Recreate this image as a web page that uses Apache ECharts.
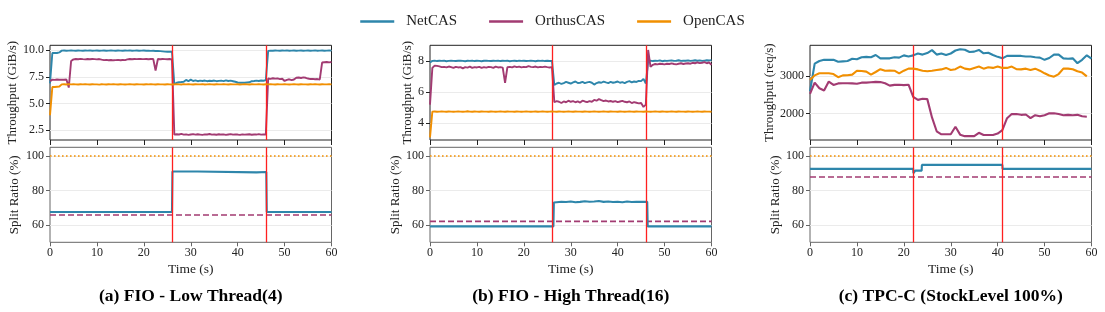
<!DOCTYPE html>
<html><head><meta charset="utf-8">
<script src="https://cdn.jsdelivr.net/npm/echarts@6/dist/echarts.min.js"></script>
<style>html,body{margin:0;padding:0;background:#fff}#c{width:1105px;height:312px}</style>
</head><body><div id="c"></div>
<script>
const seriesNames = ['NetCAS', 'OrthusCAS', 'OpenCAS'];
const seriesColors = ['#2E86AB', '#A23B72', '#F18F01'];
const panelTitles = ['(a) FIO - Low Thread(4)', '(b) FIO - High Thread(16)', '(c) TPC-C (StockLevel 100%)'];
const timeTicks = [0, 10, 20, 30, 40, 50, 60];
const splitTicks = [60, 80, 100];
const throughputTicksA = [2.5, 5.0, 7.5, 10.0];
const throughputTicksB = [4, 6, 8];
const throughputTicksC = [2000, 3000];
const phaseLinesA = [26, 46];
const phaseLinesB = [26, 46];
const phaseLinesC = [22, 41];

// FIO sample times (0.5 s)
const timeFio = Array.from({length: 121}, (_, i) => i * 0.5);
// TPC-C sample times (1 s)
const timeTpc = Array.from({length: 61}, (_, i) => i);

// ---- (a) FIO Low Thread throughput (GiB/s)
const netA = [
 6.9, 9.75, 9.76, 9.75, 9.8, 9.97, 9.98, 9.96, 9.97, 9.99,
 9.97, 9.96, 9.98, 9.97, 9.96, 9.98, 9.97, 9.99, 9.96, 9.97,
 9.98, 9.96, 9.97, 9.98, 9.96, 9.97, 9.99, 9.97, 9.96, 9.98,
 9.97, 9.96, 9.98, 9.97, 9.99, 9.96, 9.97, 9.98, 9.96, 9.97,
 9.98, 9.96, 9.97, 9.95, 9.96, 9.94, 9.93, 9.92, 9.9, 9.88,
 9.87, 9.88, 9.86, 6.8, 6.95, 7.0, 7.02, 7.05, 7.22, 7.1,
 7.25, 7.12, 7.18, 7.1, 7.15, 7.12, 7.16, 7.1, 7.14, 7.12,
 7.16, 7.1, 7.13, 7.15, 7.11, 7.18, 7.12, 7.15, 7.1, 7.05,
 6.98, 6.96, 6.97, 6.95, 6.98, 7.0, 7.1, 7.12, 7.15, 7.12,
 7.16, 7.14, 7.2, 9.95, 9.97, 9.96, 9.98, 9.97, 9.96, 9.98,
 9.97, 9.99, 9.96, 9.97, 9.98, 9.96, 9.97, 9.98, 9.96, 9.97,
 9.98, 9.96, 9.97, 9.99, 9.96, 9.97, 9.98, 9.96, 9.97, 9.98,
 9.97];
const orthA = [
 7.1, 7.25, 7.22, 7.26, 7.24, 7.25, 7.23, 7.26, 6.5, 9.0,
 9.15, 9.18, 9.16, 9.2, 9.17, 9.15, 9.18, 9.16, 9.19, 9.17,
 9.15, 9.18, 9.12, 9.08, 9.1, 9.07, 9.09, 9.06, 9.08, 9.1,
 9.07, 9.09, 9.08, 9.15, 9.18, 9.16, 9.19, 9.17, 9.2, 9.18,
 9.17, 9.19, 9.16, 9.18, 9.2, 8.1, 9.18, 9.16, 9.19, 9.17,
 9.16, 9.18, 9.15, 2.08, 2.12, 2.1, 2.15, 2.08, 2.11, 2.06,
 2.1, 2.13, 2.08, 2.12, 2.09, 2.06, 2.11, 2.1, 2.14, 2.08,
 2.1, 2.07, 2.12, 2.09, 2.11, 2.06, 2.1, 2.13, 2.08, 2.1,
 2.09, 2.06, 2.11, 2.08, 2.1, 2.12, 2.07, 2.1, 2.09, 2.13,
 2.08, 2.11, 2.1, 7.35, 7.32, 7.38, 7.34, 7.36, 7.3, 7.33,
 7.12, 7.22, 7.28, 7.2, 7.26, 7.42, 7.45, 7.4, 7.46, 7.42,
 7.35, 7.3, 7.32, 7.28, 7.3, 7.26, 8.85, 8.88, 8.9, 8.87,
 8.9];
const openA = [
 3.9, 6.55, 6.56, 6.58, 6.6, 6.8, 6.81, 6.79, 6.82, 6.8,
 6.81, 6.8, 6.79, 6.81, 6.8, 6.82, 6.8, 6.79, 6.81, 6.8,
 6.8, 6.78, 6.81, 6.8, 6.79, 6.81, 6.8, 6.82, 6.8, 6.79,
 6.81, 6.8, 6.79, 6.8, 6.82, 6.8, 6.79, 6.81, 6.8, 6.8,
 6.79, 6.81, 6.8, 6.82, 6.8, 6.79, 6.81, 6.8, 6.8, 6.79,
 6.81, 6.8, 6.79, 6.8, 6.81, 6.8, 6.79, 6.82, 6.8, 6.81,
 6.8, 6.79, 6.81, 6.8, 6.8, 6.82, 6.79, 6.8, 6.81, 6.8,
 6.79, 6.81, 6.8, 6.8, 6.82, 6.8, 6.79, 6.81, 6.8, 6.8,
 6.81, 6.79, 6.8, 6.82, 6.8, 6.79, 6.81, 6.8, 6.8, 6.81,
 6.8, 6.79, 6.81, 6.8, 6.82, 6.8, 6.79, 6.81, 6.8, 6.8,
 6.81, 6.8, 6.79, 6.8, 6.82, 6.8, 6.79, 6.81, 6.8, 6.8,
 6.79, 6.81, 6.8, 6.82, 6.8, 6.79, 6.81, 6.8, 6.8, 6.81,
 6.8];

// ---- (b) FIO High Thread throughput (GiB/s)
const netB = [
 7.9, 8.0, 8.02, 7.99, 8.01, 8.0, 8.02, 7.98, 8.0, 8.01,
 8.0, 7.99, 8.01, 8.02, 8.0, 7.98, 8.01, 8.0, 8.02, 7.99,
 8.01, 8.0, 7.98, 8.01, 8.02, 8.0, 7.99, 8.01, 8.0, 8.02,
 7.99, 8.01, 8.0, 8.02, 7.98, 8.0, 8.01, 7.99, 8.02, 8.0,
 8.01, 7.99, 8.0, 8.02, 8.0, 7.98, 8.01, 8.0, 8.02, 7.99,
 8.01, 7.99, 8.0, 6.45, 6.55, 6.6, 6.52, 6.58, 6.65, 6.6,
 6.55, 6.62, 6.68, 6.58, 6.6, 6.65, 6.57, 6.62, 6.66, 6.6,
 6.48, 6.58, 6.63, 6.6, 6.67, 6.62, 6.58, 6.65, 6.6, 6.63,
 6.68, 6.6, 6.64, 6.58, 6.66, 6.7, 6.62, 6.68, 6.65, 6.72,
 6.7, 6.85, 6.55, 8.0, 8.02, 7.99, 8.01, 8.0, 8.03, 7.98,
 8.01, 8.0, 8.02, 8.03, 8.0, 8.01, 8.04, 8.0, 8.02, 8.01,
 8.03, 8.0, 8.02, 8.04, 8.01, 8.03, 8.0, 8.02, 8.04, 8.03,
 8.05];
const orthB = [
 5.2, 7.55, 7.7, 7.68, 7.65, 7.6, 7.62, 7.58, 7.64, 7.6,
 7.55, 7.62, 7.58, 7.6, 7.52, 7.6, 7.57, 7.63, 7.55, 7.6,
 7.58, 7.62, 7.55, 7.6, 7.57, 7.62, 7.6, 7.55, 7.63, 7.58,
 7.6, 7.57, 6.6, 7.6, 7.62, 7.58, 7.65, 7.6, 7.63, 7.58,
 7.62, 7.6, 7.66, 7.62, 7.6, 7.64, 7.58, 7.62, 7.6, 7.63,
 7.6, 7.58, 7.6, 5.35, 5.42, 5.38, 5.3, 5.4, 5.35, 5.45,
 5.38, 5.42, 5.35, 5.4, 5.33, 5.45, 5.4, 5.36, 5.42, 5.38,
 5.5, 5.45, 5.55, 5.48, 5.42, 5.46, 5.4, 5.43, 5.38, 5.42,
 5.36, 5.4, 5.44, 5.38, 5.35, 5.4, 5.3, 5.36, 5.32, 5.28,
 5.3, 5.05, 5.2, 8.7, 7.62, 7.75, 7.8, 7.78, 7.82, 7.8,
 7.78, 7.82, 7.8, 7.84, 7.8, 7.78, 7.82, 7.85, 7.8, 7.83,
 7.85, 7.82, 7.88, 7.85, 7.9, 7.86, 7.88, 7.92, 7.85, 7.9,
 7.75];
const openB = [
 3.1, 4.75, 4.76, 4.74, 4.75, 4.76, 4.75, 4.74, 4.76, 4.75,
 4.74, 4.75, 4.76, 4.75, 4.74, 4.75, 4.77, 4.75, 4.74, 4.76,
 4.75, 4.74, 4.76, 4.75, 4.75, 4.74, 4.76, 4.75, 4.74, 4.75,
 4.76, 4.75, 4.74, 4.76, 4.75, 4.75, 4.74, 4.76, 4.75, 4.74,
 4.75, 4.76, 4.75, 4.74, 4.75, 4.76, 4.74, 4.75, 4.76, 4.75,
 4.74, 4.75, 4.76, 4.75, 4.74, 4.76, 4.75, 4.74, 4.75, 4.76,
 4.75, 4.74, 4.76, 4.75, 4.75, 4.74, 4.76, 4.75, 4.74, 4.75,
 4.76, 4.75, 4.74, 4.75, 4.76, 4.75, 4.74, 4.76, 4.75, 4.75,
 4.74, 4.76, 4.75, 4.74, 4.75, 4.76, 4.75, 4.74, 4.76, 4.75,
 4.75, 4.74, 4.76, 4.75, 4.74, 4.75, 4.76, 4.75, 4.74, 4.76,
 4.75, 4.74, 4.75, 4.76, 4.75, 4.74, 4.76, 4.75, 4.75, 4.74,
 4.76, 4.75, 4.74, 4.75, 4.76, 4.75, 4.74, 4.76, 4.75, 4.75,
 4.74];

// ---- (c) TPC-C throughput (req/s), 1 s samples
const netC = [
 2600, 3340, 3410, 3440, 3440, 3440, 3390, 3400, 3410, 3470,
 3455, 3510, 3520, 3510, 3570, 3480, 3480, 3480, 3510, 3500,
 3560, 3530, 3560, 3610, 3580, 3620, 3700, 3580, 3610, 3570,
 3610, 3690, 3725, 3710, 3650, 3660, 3705, 3615, 3630, 3570,
 3520, 3480, 3545, 3545, 3545, 3545, 3530, 3530, 3510, 3500,
 3440, 3490, 3580, 3580, 3480, 3470, 3480, 3350, 3440, 3560,
 3470];
const orthC = [
 2530, 2830, 2680, 2620, 2860, 2770, 2810, 2815, 2815, 2810,
 2800, 2830, 2830, 2840, 2850, 2845, 2815, 2750, 2770, 2775,
 2765, 2775, 2450, 2370, 2400, 2390, 1900, 1530, 1450, 1450,
 1450, 1650, 1440, 1400, 1400, 1400, 1490, 1430, 1430, 1430,
 1470, 1560, 1880, 1990, 1990, 1970, 1980, 1880, 1960, 1930,
 1960, 2010, 2010, 1990, 1960, 1970, 1960, 1970, 1930, 1920];
const openC = [
 2900, 3025, 3080, 3080, 3080, 3060, 2975, 3025, 3030, 3045,
 3150, 3140, 3125, 3045, 3115, 3190, 3150, 3155, 3150, 3080,
 3150, 3205, 3205, 3185, 3150, 3135, 3150, 3170, 3185, 3225,
 3170, 3190, 3260, 3205, 3185, 3225, 3260, 3205, 3240, 3225,
 3260, 3225, 3225, 3260, 3190, 3185, 3205, 3170, 3205, 3150,
 3080, 3020, 2990, 3060, 3205, 3205, 3190, 3135, 3100, 3000];

// ---- Split ratio (%)
const splitTimeA = [0, 26, 26.1, 31.5, 31.6, 44, 44.1, 46.1, 46.2, 60];
const splitNetA  = [67.5, 67.5, 91.0, 91.0, 90.5, 90.5, 90.7, 90.7, 67.5, 67.5];
const splitTimeB = [0, 26.3, 26.4, 27, 28, 29, 30, 31, 32, 33, 34, 35, 36, 37, 38, 39, 40, 41, 42, 43, 44, 45, 46.3, 46.4, 60];
const splitNetB  = [59.2, 59.2, 73.0, 73.2, 73.5, 73.3, 73.6, 73.2, 73.4, 73.8, 73.5, 73.6, 73.9, 73.4, 73.6, 73.3, 73.5, 73.2, 73.6, 73.3, 73.5, 73.4, 73.4, 59.2, 59.2];
const splitTimeC = [0, 22, 22.05, 22.4, 22.45, 23.8, 23.85, 41, 41.05, 60];
const splitNetC  = [92.5, 92.5, 90.0, 90.0, 91.5, 91.5, 94.8, 94.8, 92.5, 92.5];
const splitOrthusLevels = [65.8, 62.1, 87.8];
const splitOpenLevels = [100, 100, 100];

const FONT = '"Liberation Serif", "Times New Roman", serif';
const panels = [
  {left: 50, min: 1.58, max: 10.47, ticks: throughputTicksA, dec: 1, yName: 'Throughput (GiB/s)', t: timeFio,
   vals: [netA, orthA, openA], sT: splitTimeA, sV: splitNetA, phase: phaseLinesA, gapTop: 31, gapBot: 29, lw: 1.9},
  {left: 430, min: 2.93, max: 9.0, ticks: throughputTicksB, dec: 0, yName: 'Throughput (GiB/s)', t: timeFio,
   vals: [netB, orthB, openB], sT: splitTimeB, sV: splitNetB, phase: phaseLinesB, gapTop: 16, gapBot: 27, lw: 1.9},
  {left: 810, min: 1297, max: 3829, ticks: throughputTicksC, dec: 0, yName: 'Throughput (req/s)', t: timeTpc,
   vals: [netC, orthC, openC], sT: splitTimeC, sV: splitNetC, phase: phaseLinesC, gapTop: 33, gapBot: 28, lw: 2.1}
];
const W = 281.5, TOP_Y = 45.3, TOP_H = 94.7, BOT_Y = 147.3, BOT_H = 95;

const grids = [], xAxes = [], yAxes = [], series = [], graphics = [];
const tickFont = {fontFamily: FONT, fontSize: 12, color: '#222'};
panels.forEach((p, pi) => {
  const gTop = grids.length;
  grids.push({left: p.left, top: TOP_Y, width: W, height: TOP_H, show: true, borderColor: '#222', borderWidth: 1, containLabel: false});
  grids.push({left: p.left, top: BOT_Y, width: W, height: BOT_H, show: true, borderColor: '#666', borderWidth: 1, containLabel: false});
  xAxes.push({gridIndex: gTop, type: 'value', min: 0, max: 60, interval: 10,
    axisLine: {show: false}, axisTick: {show: true, inside: false, length: 5, lineStyle: {color: '#222'}},
    axisLabel: {show: false}, splitLine: {show: false}});
  xAxes.push({gridIndex: gTop + 1, type: 'value', min: 0, max: 60, interval: 10,
    name: 'Time (s)', nameLocation: 'middle', nameGap: 20, nameTextStyle: {fontFamily: FONT, fontSize: 13.5, color: '#222'},
    axisLine: {show: false}, axisTick: {show: true, inside: false, length: 4, lineStyle: {color: '#666'}},
    axisLabel: Object.assign({margin: 5, customValues: timeTicks}, tickFont), splitLine: {show: false}});
  yAxes.push({gridIndex: gTop, type: 'value', min: p.min, max: p.max,
    name: p.yName, nameLocation: 'middle', nameGap: p.gapTop, nameTextStyle: {fontFamily: FONT, fontSize: 13, color: '#222'},
    axisLine: {show: false},
    axisTick: {show: true, inside: false, length: 4, customValues: p.ticks, lineStyle: {color: '#222'}},
    axisLabel: Object.assign({margin: 6, customValues: p.ticks, formatter: v => Number(v).toFixed(p.dec)}, tickFont),
    splitLine: {show: true, lineStyle: {color: '#ebebeb', width: 1}}});
  yAxes.push({gridIndex: gTop + 1, type: 'value', min: 50, max: 105,
    name: 'Split Ratio (%)', nameLocation: 'middle', nameGap: p.gapBot, nameTextStyle: {fontFamily: FONT, fontSize: 13, color: '#222'},
    axisLine: {show: false},
    axisTick: {show: true, inside: false, length: 4, customValues: splitTicks, lineStyle: {color: '#666'}},
    axisLabel: Object.assign({margin: 6, customValues: splitTicks}, tickFont),
    splitLine: {show: true, lineStyle: {color: '#ebebeb', width: 1}}});

  const red = () => ({silent: true, symbol: 'none', label: {show: false},
    lineStyle: {color: '#ff2020', width: 1.3, type: 'solid'}, data: p.phase.map(x => ({xAxis: x}))});
  p.vals.forEach((vals, si) => {
    const s = {name: seriesNames[si], type: 'line', xAxisIndex: gTop, yAxisIndex: gTop, symbol: 'none',
      data: vals.map((v, i) => [p.t[i], v]),
      lineStyle: {color: seriesColors[si], width: p.lw}, itemStyle: {color: seriesColors[si]}, z: 3 + si};
    if (si === 0) s.markLine = red();
    series.push(s);
  });
  series.push({name: 'OpenCAS', type: 'line', xAxisIndex: gTop + 1, yAxisIndex: gTop + 1, symbol: 'none',
    data: [[0, splitOpenLevels[pi]], [60, splitOpenLevels[pi]]],
    lineStyle: {color: seriesColors[2], width: 1.6, type: [1.6, 2.4]}, itemStyle: {color: seriesColors[2]}, z: 3});
  series.push({name: 'OrthusCAS', type: 'line', xAxisIndex: gTop + 1, yAxisIndex: gTop + 1, symbol: 'none',
    data: [[0, splitOrthusLevels[pi]], [60, splitOrthusLevels[pi]]],
    lineStyle: {color: seriesColors[1], width: 1.6, type: [6, 3]}, itemStyle: {color: seriesColors[1]}, z: 3});
  series.push({name: 'NetCAS', type: 'line', xAxisIndex: gTop + 1, yAxisIndex: gTop + 1, symbol: 'none',
    data: p.sT.map((t, i) => [t, p.sV[i]]),
    lineStyle: {color: seriesColors[0], width: 2.1}, itemStyle: {color: seriesColors[0]}, z: 4, markLine: red()});

  graphics.push({type: 'text', x: p.left + W / 2, y: 296, style: {text: panelTitles[pi], fontFamily: FONT,
    fontSize: 17.5, fontWeight: 'bold', fill: '#000', align: 'center', verticalAlign: 'middle'}});
});

const chart = echarts.init(document.getElementById('c'), null, {renderer: 'canvas'});
chart.setOption({
  animation: false,
  backgroundColor: '#fff',
  legend: {data: seriesNames, top: 9, left: 'center', icon: 'rect', itemWidth: 34, itemHeight: 2.5, itemGap: 32,
    textStyle: {fontFamily: FONT, fontSize: 15, color: '#222', padding: [0, 0, 0, 7]}},
  grid: grids, xAxis: xAxes, yAxis: yAxes, series: series, graphic: graphics
});
</script></body></html>
